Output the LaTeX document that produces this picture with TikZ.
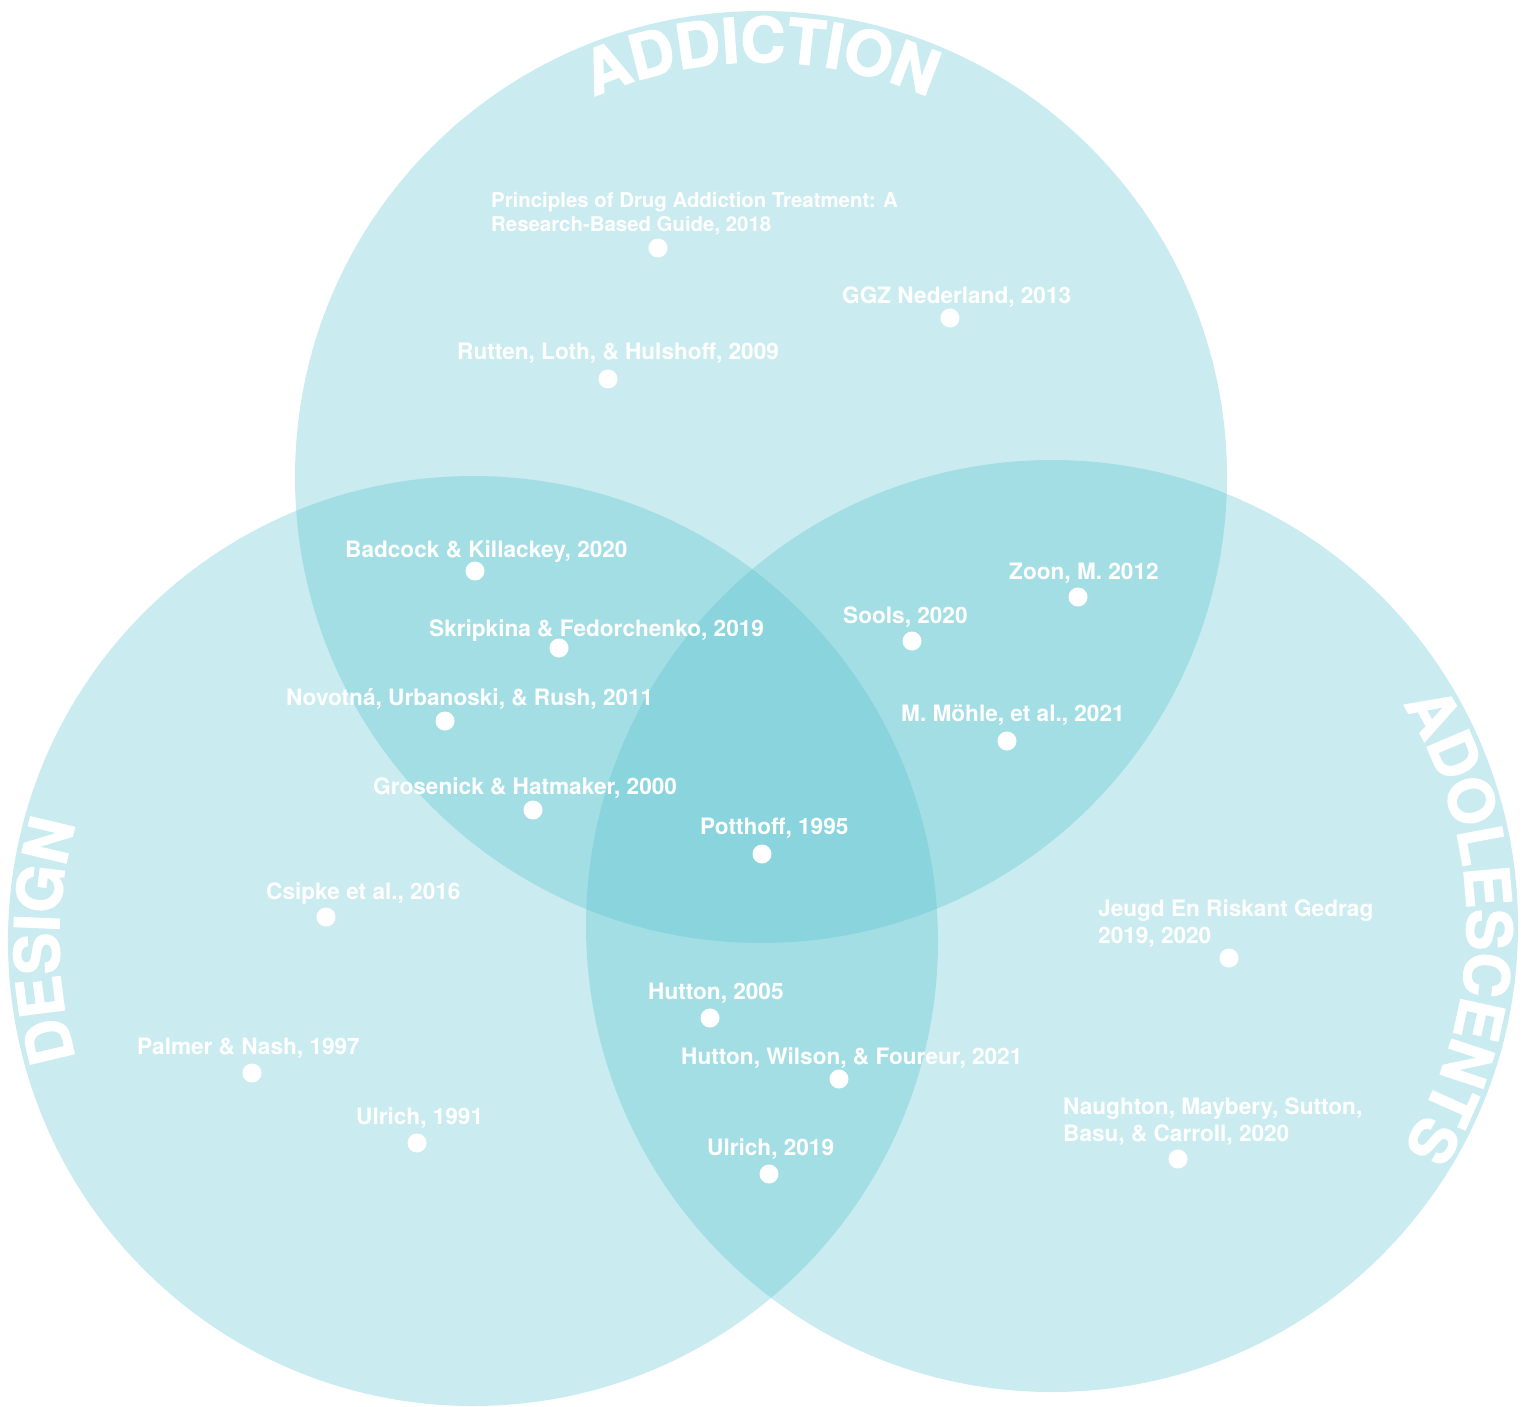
\documentclass[tikz,border=0pt]{standalone}
\usepackage{fontspec}
\setmainfont{TeX Gyre Heros}
\newfontfamily\headfont[FakeBold=2]{TeX Gyre Heros}
\usetikzlibrary{decorations.text}
\definecolor{vennblue}{RGB}{69,188,202}

\begin{document}
\begin{tikzpicture}[x=1pt,y=-1pt,
        venn/.style={fill=vennblue,fill opacity=0.285},
        cite/.style={anchor=base west,text=white,inner sep=0pt,align=left,
            font=\bfseries\fontsize{22.6}{27}\selectfont},
        spot/.style={circle,fill=white,inner sep=0pt,minimum size=19pt},
        heading/.style={decorate,decoration={text along path,text align=center,
            text color=white,text={|\headfont\bfseries\fontsize{62}{62}\selectfont|#1}}}]
    \useasboundingbox (0,0) rectangle (1525,1407);
    % the three sets
    \fill[venn] (761,477) circle[radius=466];
    \fill[venn] (473,941) circle[radius=465];
    \fill[venn] (1052,926) circle[radius=466];
    % set titles
    \path[heading=ADDICTION] (761,477) ++(225:415) arc[start angle=225,end angle=315,radius=415];
    \path[heading=DESIGN] (471,941) ++(140:412) arc[start angle=140,end angle=220,radius=412];
    \path[heading=ADOLESCENTS] (1052,926) ++(-45:415) arc[start angle=-45,end angle=45,radius=415];
    % sources (base = last line)
    \node[cite,font=\bfseries\fontsize{20.4}{24}\selectfont] (nida) at (491,231) {Principles of Drug Addiction Treatment: A\\Research-Based Guide, 2018};
    \node[spot] (nida dot) at (658,248) {};
    \node[cite] (ggz) at (842,303) {GGZ Nederland, 2013};
    \node[spot] (ggz dot) at (950,318) {};
    \node[cite] (rutten) at (457,359) {Rutten, Loth, \& Hulshoff, 2009};
    \node[spot] (rutten dot) at (608,379) {};
    \node[cite] (badcock) at (345,557) {Badcock \& Killackey, 2020};
    \node[spot] (badcock dot) at (475,571) {};
    \node[cite] (zoon) at (1009,579) {Zoon, M. 2012};
    \node[spot] (zoon dot) at (1078,597) {};
    \node[cite] (skripkina) at (429,636) {Skripkina \& Fedorchenko, 2019};
    \node[spot] (skripkina dot) at (559,648) {};
    \node[cite] (sools) at (843,623) {Sools, 2020};
    \node[spot] (sools dot) at (912,641) {};
    \node[cite] (novotna) at (286,705) {Novotná, Urbanoski, \& Rush, 2011};
    \node[spot] (novotna dot) at (445,721) {};
    \node[cite] (mohle) at (901,721) {M. Möhle, et al., 2021};
    \node[spot] (mohle dot) at (1007,741) {};
    \node[cite] (grosenick) at (373,794) {Grosenick \& Hatmaker, 2000};
    \node[spot] (grosenick dot) at (533,810) {};
    \node[cite] (potthoff) at (700,834) {Potthoff, 1995};
    \node[spot] (potthoff dot) at (762,854) {};
    \node[cite] (csipke) at (266,899) {Csipke et al., 2016};
    \node[spot] (csipke dot) at (326,917) {};
    \node[cite] (jeugd) at (1098,943) {Jeugd En Riskant Gedrag\\2019, 2020};
    \node[spot] (jeugd dot) at (1229,958) {};
    \node[cite] (hutton) at (648,999) {Hutton, 2005};
    \node[spot] (hutton dot) at (710,1018) {};
    \node[cite] (huttonw) at (681,1064) {Hutton, Wilson, \& Foureur, 2021};
    \node[spot] (huttonw dot) at (839,1079) {};
    \node[cite] (palmer) at (137,1054) {Palmer \& Nash, 1997};
    \node[spot] (palmer dot) at (252,1073) {};
    \node[cite] (ulrich) at (356,1124) {Ulrich, 1991};
    \node[spot] (ulrich dot) at (417,1143) {};
    \node[cite] (ulrichb) at (707,1155) {Ulrich, 2019};
    \node[spot] (ulrichb dot) at (769,1174) {};
    \node[cite] (naughton) at (1063,1141) {Naughton, Maybery, Sutton,\\Basu, \& Carroll, 2020};
    \node[spot] (naughton dot) at (1178,1159) {};
\end{tikzpicture}
\end{document}
